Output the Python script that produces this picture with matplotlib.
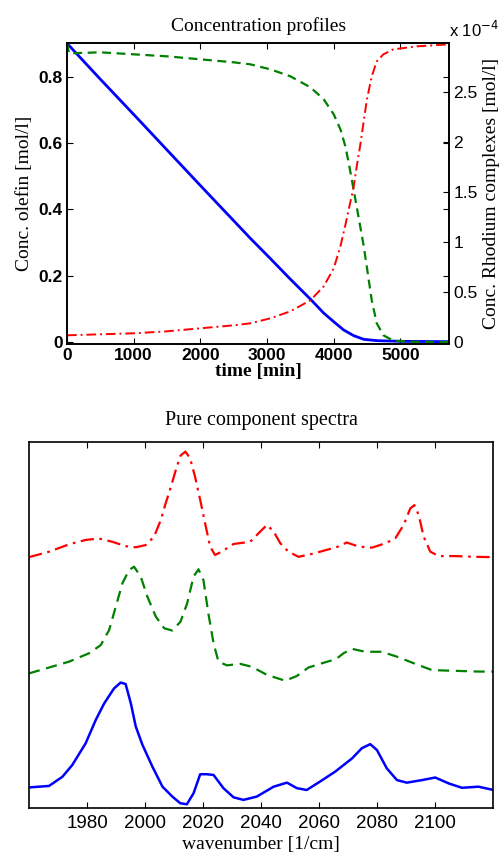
import matplotlib
matplotlib.use("Agg")
import matplotlib.pyplot as plt

SERIF = "Liberation Serif"
SANS = "Liberation Sans"

# --- concentration profiles (time in min) ---
blue_t = [0, 500, 1000, 1500, 2000, 2500, 2750, 3050, 3350, 3650, 3850, 4000,
          4150, 4300, 4450, 4650, 5000, 5730]
blue_c = [0.90, 0.792, 0.686, 0.579, 0.472, 0.366, 0.313, 0.252, 0.190, 0.130,
          0.088, 0.062, 0.037, 0.020, 0.009, 0.005, 0.003, 0.002]

# rhodium complexes, in units of 1e-4 mol/l
green_t = [0, 30, 500, 1000, 1500, 2000, 2500, 2750, 3050, 3350, 3650, 3850,
           4000, 4100, 4170, 4220, 4270, 4305, 4370, 4445, 4495, 4570, 4645,
           4745, 4895, 5200, 5730]
green_c = [2.99, 2.89, 2.90, 2.88, 2.86, 2.83, 2.80, 2.78, 2.73, 2.66, 2.55,
           2.43, 2.28, 2.13, 1.97, 1.81, 1.63, 1.50, 1.26, 0.98, 0.76, 0.42,
           0.19, 0.07, 0.016, 0.005, 0.003]

red_t = [0, 500, 1000, 1500, 2000, 2500, 2750, 3050, 3350, 3650, 3850, 4000,
         4100, 4170, 4245, 4295, 4345, 4395, 4445, 4495, 4570, 4645, 4745,
         4895, 5250, 5730]
red_c = [0.07, 0.08, 0.09, 0.11, 0.14, 0.17, 0.19, 0.24, 0.31, 0.42, 0.56,
         0.74, 0.96, 1.16, 1.39, 1.54, 1.76, 1.96, 2.19, 2.42, 2.66, 2.81,
         2.88, 2.93, 2.96, 2.98]

left_ticks = [0, 0.2, 0.4, 0.6, 0.8]
left_labels = ["0", "0.2", "0.4", "0.6", "0.8"]
right_ticks = [0, 0.5, 1, 1.5, 2, 2.5]
right_labels = ["0", "0.5", "1", "1.5", "2", "2.5"]
time_ticks = [0, 1000, 2000, 3000, 4000, 5000]

# --- pure component spectra (stacked, arbitrary units) ---
wn_blue = [1960, 1966.9, 1971.5, 1974.9, 1979.5, 1983, 1985.9, 1989.3,
           1991.6, 1993.3, 1995.1, 1996.8, 1999.1, 2002.5, 2006, 2009.4,
           2012.1, 2014.4, 2016.7, 2019, 2021.3, 2023.6, 2027, 2030.5,
           2033.9, 2038.5, 2044.3, 2048.9, 2052.3, 2055.7, 2060.3, 2065.5,
           2071.3, 2074.7, 2077.6, 2079.9, 2083.3, 2086.8, 2090.2, 2095.4,
           2100, 2104.6, 2109.2, 2114.9, 2120.1]
sp_blue = [0.057, 0.061, 0.086, 0.118, 0.177, 0.241, 0.286, 0.327, 0.343,
           0.339, 0.286, 0.223, 0.173, 0.114, 0.059, 0.032, 0.014, 0.011,
           0.041, 0.093, 0.093, 0.091, 0.055, 0.030, 0.023, 0.032, 0.059,
           0.070, 0.055, 0.050, 0.073, 0.100, 0.136, 0.164, 0.175, 0.159,
           0.109, 0.077, 0.070, 0.077, 0.084, 0.068, 0.056, 0.059, 0.050]

wn_green = [1960, 1966.9, 1973.8, 1980.7, 1984.7, 1987.6, 1989.9, 1992.2,
            1994.5, 1996.2, 1998.5, 2000.8, 2003.7, 2006.6, 2009.4, 2012.2,
            2014.5, 2016.7, 2018.4, 2020.1, 2021.8, 2023.6, 2025.3, 2028.2,
            2032.8, 2036.8, 2042, 2048.3, 2052.3, 2056.3, 2061.5, 2065.8,
            2068.4, 2071.3, 2075.9, 2081.6, 2087.4, 2093.1, 2098.9, 2106.9,
            2114.9, 2120.1]
sp_green = [0.368, 0.384, 0.400, 0.423, 0.445, 0.486, 0.550, 0.614, 0.650,
            0.659, 0.632, 0.577, 0.523, 0.491, 0.485, 0.509, 0.559, 0.632,
            0.652, 0.623, 0.532, 0.450, 0.400, 0.390, 0.394, 0.386, 0.364,
            0.348, 0.361, 0.384, 0.397, 0.407, 0.423, 0.435, 0.427, 0.427,
            0.412, 0.394, 0.377, 0.375, 0.373, 0.373]

wn_red = [1960, 1966.9, 1973.8, 1979.5, 1984.1, 1988.7, 1993.3, 1996.8,
          2000.2, 2003.1, 2005.4, 2007.1, 2008.9, 2010.6, 2012.2, 2013.9,
          2015.5, 2017.2, 2019, 2020.7, 2022.4, 2024.1, 2026.4, 2030.5,
          2036.2, 2039.7, 2042, 2044.3, 2046.6, 2049.4, 2052.9, 2058.1,
          2062.6, 2066.2, 2069.5, 2073.6, 2078.2, 2082.8, 2086.2, 2089.1,
          2091.4, 2092.8, 2094.3, 2096, 2098.3, 2101.2, 2106.9, 2113.8,
          2120.1]
sp_red = [0.685, 0.700, 0.720, 0.732, 0.736, 0.727, 0.715, 0.712, 0.718,
          0.741, 0.786, 0.832, 0.877, 0.923, 0.962, 0.973, 0.955, 0.905,
          0.841, 0.777, 0.714, 0.691, 0.700, 0.721, 0.727, 0.755, 0.773,
          0.755, 0.723, 0.700, 0.686, 0.695, 0.705, 0.713, 0.725, 0.714,
          0.711, 0.723, 0.736, 0.773, 0.818, 0.827, 0.800, 0.741, 0.700,
          0.688, 0.688, 0.686, 0.685]
wn_ticks = [1980, 2000, 2020, 2040, 2060, 2080, 2100]

BLUE, GREEN, RED = "#0000ff", "#008000", "#ff0000"

fig = plt.figure(figsize=(5.0, 8.58), dpi=100)

# ---------------- top: concentration profiles ----------------
ax = fig.add_axes([0.134, 0.5987, 0.7646, 0.3508])
ax2 = ax.twinx()
ax.plot(blue_t, blue_c, color=BLUE, lw=2.0)
ax2.plot(green_t, green_c, color=GREEN, lw=1.6, ls=(0, (4, 2.5)))
ax2.plot(red_t, red_c, color=RED, lw=1.4, ls=(0, (5, 2, 1, 2)))

ax.set_xlim(0, 5733)
ax.set_ylim(-0.006, 0.9)
ax2.set_ylim(-0.02, 2.99)
ax.set_xticks(time_ticks)
ax.set_xticklabels([str(t) for t in time_ticks], fontsize=12.5,
                   family=SANS, fontweight="bold")
ax.set_yticks(left_ticks)
ax.set_yticklabels(left_labels, fontsize=12.5, family=SANS, fontweight="bold")
ax2.set_yticks(right_ticks)
ax2.set_yticklabels(right_labels, fontsize=12.5, family=SANS)
ax.tick_params(direction="in", length=4, top=True, right=True, pad=3)
ax2.tick_params(direction="in", length=4, pad=3)
ax.set_title("Concentration profiles", family=SERIF, fontsize=14, pad=9)
ax.set_xlabel("time [min]", family=SERIF, fontsize=14, fontweight="bold",
              labelpad=0)
ax.set_ylabel("Conc. olefin [mol/l]", family=SERIF, fontsize=14, labelpad=4)
ax2.set_ylabel("Conc. Rhodium complexes [mol/l]", family=SERIF, fontsize=14,
               labelpad=4)
ax2.text(1.0, 1.012, r"x 10$^{-4}$", transform=ax2.transAxes, ha="left",
         va="bottom", family=SANS, fontsize=12)

# ---------------- bottom: pure component spectra ----------------
bx = fig.add_axes([0.058, 0.0579, 0.9286, 0.4273])
bx.plot(wn_blue, sp_blue, color=BLUE, lw=1.8)
bx.plot(wn_green, sp_green, color=GREEN, lw=1.6, ls=(0, (5, 3)))
bx.plot(wn_red, sp_red, color=RED, lw=1.6, ls=(0, (6, 2.5, 1.2, 2.5)))
bx.set_xlim(1960, 2120)
bx.set_ylim(0, 1)
bx.set_xticks(wn_ticks)
bx.set_xticklabels([str(w) for w in wn_ticks], fontsize=13.5, family=SANS)
bx.set_yticks([])
bx.tick_params(direction="in", length=4, top=True, pad=5)
bx.set_title("Pure component spectra", family=SERIF, fontsize=14.5, pad=12)
bx.set_xlabel("wavenumber [1/cm]", family=SERIF, fontsize=14, labelpad=3)

for a in (ax, ax2, bx):
    for s in a.spines.values():
        s.set_linewidth(1.2)

fig.savefig("out.png", dpi=100)
